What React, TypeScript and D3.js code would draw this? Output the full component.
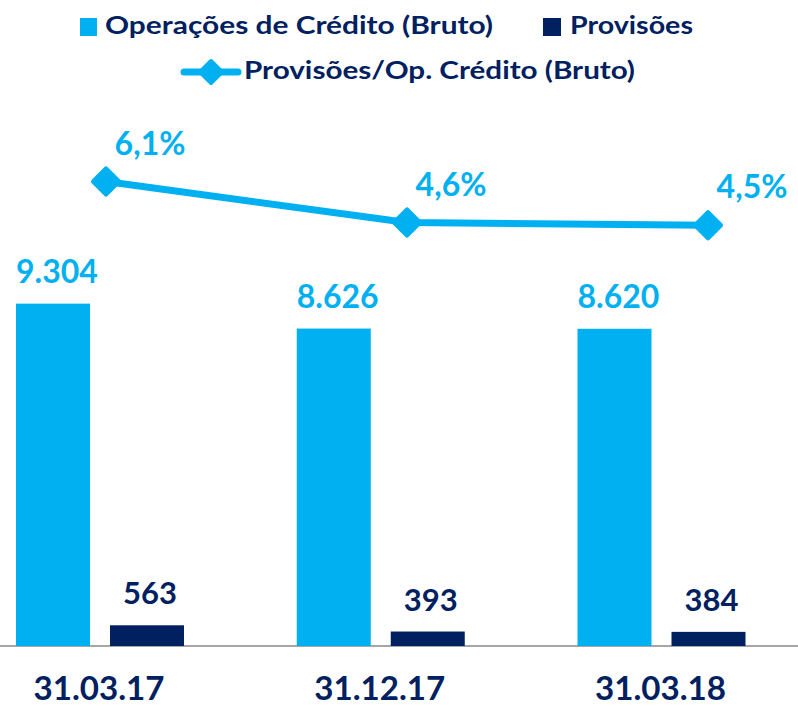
import React from "react";
import * as d3 from "d3";

const categories = ["31.03.17", "31.12.17", "31.03.18"];
const operacoes = [9304, 8626, 8620];
const provisoes = [563, 393, 384];
const ratio = [6.1, 4.6, 4.5];
const operacoesLabels = ["9.304", "8.626", "8.620"];
const provisoesLabels = ["563", "393", "384"];
const ratioLabels = ["6,1%", "4,6%", "4,5%"];
const seriesKeys = ["ops", "prov"];

const W = 798;
const H = 708;
const LIGHT = "#00B0F0";
const DARK = "#002060";
const FONT = "Lato, 'Open Sans', sans-serif";

export default function App() {
  const baseY = 646;
  const xGroup = d3.scalePoint<string>().domain(categories).range([100, 661.5]);
  const xInner = d3
    .scaleBand<string>()
    .domain(seriesKeys)
    .range([-84, 84])
    .paddingInner(0.2128)
    .paddingOuter(0);
  const y = d3.scaleLinear().domain([0, 10000]).range([baseY, 278]);
  const xLine = d3.scalePoint<string>().domain(categories).range([106, 708]);
  const y2 = d3.scaleLinear().domain([4, 7]).range([238.9, 156.9]);

  const linePath = d3
    .line<number>()
    .x((_, i) => xLine(categories[i])!)
    .y((d) => y2(d))(ratio)!;

  const diamond = (cx: number, cy: number, r: number) =>
    `M${cx},${cy - r}L${cx + r},${cy}L${cx},${cy + r}L${cx - r},${cy}Z`;

  const bw = xInner.bandwidth();

  return (
    <svg
      width={W}
      height={H}
      style={{ position: "fixed", left: 0, top: 0, background: "#fff" }}
      fontFamily={FONT}
      fontWeight={700}
    >
      {/* Legend */}
      <g>
        <rect x={80} y={18} width={17} height={18} fill={LIGHT} />
        <text x={105} y={34} fontSize={25} fill={DARK} textLength={388} lengthAdjust="spacingAndGlyphs">
          Operações de Crédito (Bruto)
        </text>
        <rect x={543} y={18} width={18} height={18} fill={DARK} />
        <text x={570} y={34} fontSize={25} fill={DARK} textLength={123} lengthAdjust="spacingAndGlyphs">
          Provisões
        </text>
        <line x1={184} x2={238} y1={72} y2={72} stroke={LIGHT} strokeWidth={7} strokeLinecap="round" />
        <path d={diamond(211, 72, 11)} fill={LIGHT} stroke={LIGHT} strokeWidth={4} strokeLinejoin="round" />
        <text x={244} y={79} fontSize={25} fill={DARK} textLength={391} lengthAdjust="spacingAndGlyphs">
          Provisões/Op. Crédito (Bruto)
        </text>
      </g>

      {/* Axis baseline */}
      <line x1={0} x2={W} y1={baseY} y2={baseY} stroke="#A6A6A6" strokeWidth={2} />

      {/* Bars */}
      {categories.map((c, i) => {
        const gx = xGroup(c)!;
        const x1 = gx + xInner("ops")!;
        const x2 = gx + xInner("prov")!;
        return (
          <g key={c}>
            <rect x={x1} y={y(operacoes[i])} width={bw} height={baseY - y(operacoes[i])} fill={LIGHT} />
            <rect x={x2} y={y(provisoes[i])} width={bw} height={baseY - y(provisoes[i])} fill={DARK} />
            <text x={x1 + bw / 2 + 4} y={y(operacoes[i]) - 21} fontSize={32} fill={LIGHT} textAnchor="middle">
              {operacoesLabels[i]}
            </text>
            <text x={x2 + bw / 2 + 3} y={y(provisoes[i]) - 21} fontSize={31} fill={DARK} textAnchor="middle">
              {provisoesLabels[i]}
            </text>
            <text x={gx - 1} y={700} fontSize={32} fill={DARK} textAnchor="middle" textLength={131} lengthAdjust="spacingAndGlyphs">
              {c}
            </text>
          </g>
        );
      })}

      {/* Line */}
      <path d={linePath} fill="none" stroke={LIGHT} strokeWidth={7} strokeLinejoin="round" />
      {ratio.map((v, i) => {
        const cx = xLine(categories[i])!;
        const cy = y2(v);
        return (
          <g key={i}>
            <path d={diamond(cx, cy, 12.5)} fill={LIGHT} stroke={LIGHT} strokeWidth={5} strokeLinejoin="round" />
            <text x={cx + 44} y={cy - 27} fontSize={32} fill={LIGHT} textAnchor="middle">
              {ratioLabels[i]}
            </text>
          </g>
        );
      })}
    </svg>
  );
}
